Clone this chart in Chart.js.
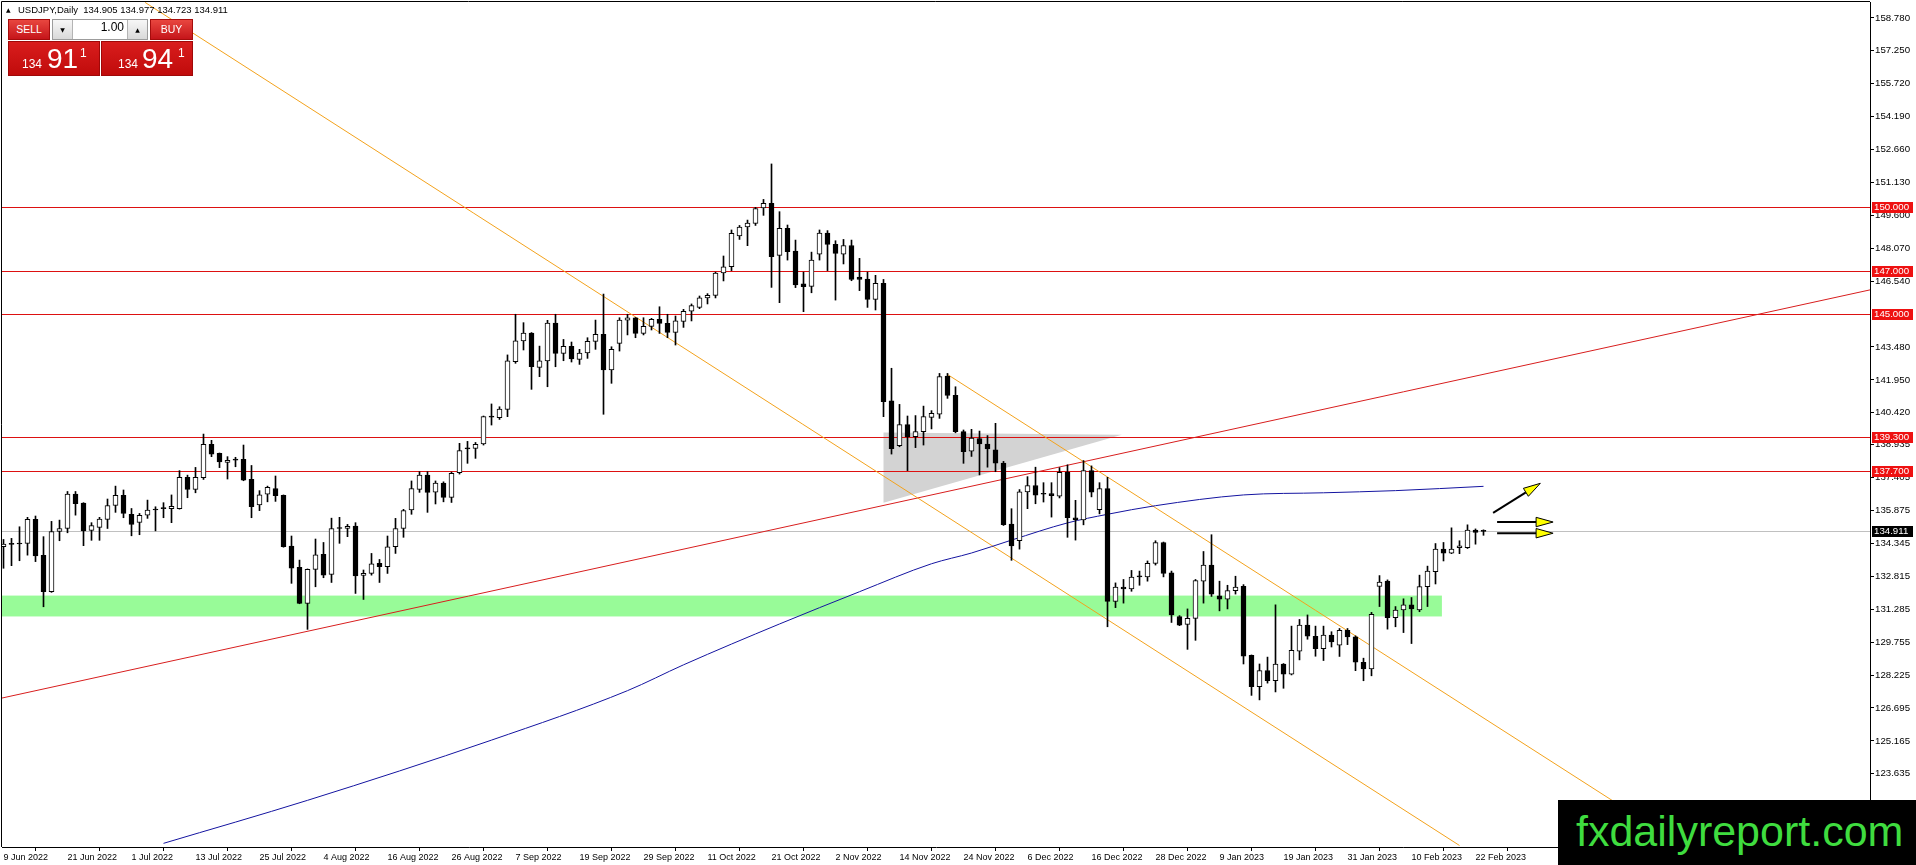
<!DOCTYPE html>
<html>
<head>
<meta charset="utf-8">
<title>USDJPY Daily</title>
<script src="https://cdn.jsdelivr.net/npm/chart.js@4.4.0/dist/chart.umd.min.js"></script>
<style>
html, body { margin: 0; padding: 0; background: #fff; overflow: hidden; }
#wrap { position: relative; width: 1916px; height: 865px; }
#c { position: absolute; left: 0; top: 0; }
#title { position: absolute; left: 6px; top: 4px; font: 9.5px "Liberation Sans", Arial, sans-serif; color: #000; white-space: pre; }
#tri { display: inline-block; width: 12px; font: 6px "DejaVu Sans", sans-serif; vertical-align: 1px; }
.p { position: absolute; box-sizing: border-box; }
.btn { top: 19px; height: 21px; background: linear-gradient(#e8463f, #c5151a); color: #fff;
       font: 10.5px "Liberation Sans", Arial, sans-serif; text-align: center; line-height: 19px; border: 1px solid #a50c0c; }
#sell { left: 8px; width: 42px; }
#buy { left: 150px; width: 43px; }
#spin { left: 52px; top: 19px; width: 96px; height: 21px; border: 1px solid #9c9c9c; background: #fff; }
.arr { position: absolute; top: 0; width: 19px; height: 19px; background: linear-gradient(#f7f7f7, #d9d9d9);
       font: 6px "DejaVu Sans", sans-serif; text-align: center; line-height: 19px; color: #000; }
#dn { left: 0; border-right: 1px solid #b4b4b4; }
#up { right: 0; border-left: 1px solid #b4b4b4; }
#lot { position: absolute; right: 23px; top: 0; line-height: 19px; font: 12px "Liberation Sans", Arial, sans-serif; color: #000; }
.big { top: 41px; width: 92px; height: 35px; background: linear-gradient(#d91d1d, #c00b0b); border: 1px solid #a00808; color: #fff;
       font-family: "Liberation Sans", Arial, sans-serif; }
#bid { left: 8px; }
#ask { left: 101px; width: 92px; }
.big span { position: absolute; line-height: 1; white-space: nowrap; }
.sm { font-size: 12px; top: 16px; }
.lg { font-size: 28px; top: 3px; }
.sup { font-size: 12px; top: 5px; }
#brand { position: absolute; left: 1558px; top: 800px; width: 358px; height: 65px; background: #000; color: #3fdc3f;
         font: 43px "Liberation Sans", Arial, sans-serif; line-height: 63px; padding-left: 18px; box-sizing: border-box; }
</style>
</head>
<body>
<div id="wrap">
  <canvas id="c" width="1916" height="865"></canvas>
  <div id="title"><span id="tri">▲</span>USDJPY,Daily  134.905 134.977 134.723 134.911</div>
  <div class="p btn" id="sell">SELL</div>
  <div class="p" id="spin"><span class="arr" id="dn">▼</span><span id="lot">1.00</span><span class="arr" id="up">▲</span></div>
  <div class="p btn" id="buy">BUY</div>
  <div class="p big" id="bid"><span class="sm" style="left:13px">134</span><span class="lg" style="left:38px">91</span><span class="sup" style="left:71px">1</span></div>
  <div class="p big" id="ask"><span class="sm" style="left:16px">134</span><span class="lg" style="left:40px">94</span><span class="sup" style="left:76px">1</span></div>
  <div id="brand">fxdailyreport.com</div>
</div>
<script>
// one label every 8 daily bars, bar 0 = 9 Jun 2022
const barsPerLabel = 8;
const dateLabels = ['9 Jun 2022', '21 Jun 2022', '1 Jul 2022', '13 Jul 2022', '25 Jul 2022', '4 Aug 2022',
  '16 Aug 2022', '26 Aug 2022', '7 Sep 2022', '19 Sep 2022', '29 Sep 2022', '11 Oct 2022', '21 Oct 2022',
  '2 Nov 2022', '14 Nov 2022', '24 Nov 2022', '6 Dec 2022', '16 Dec 2022', '28 Dec 2022', '9 Jan 2023',
  '19 Jan 2023', '31 Jan 2023', '10 Feb 2023', '22 Feb 2023'];

const opens = [134.19,134.32,134.32,134.35,135.46,133.79,132.10,134.90,135.04,136.64,
  136.22,134.95,135.09,135.46,136.11,136.58,135.70,135.32,135.66,135.93,
  135.96,135.96,135.96,137.42,136.86,137.40,138.95,138.53,138.11,138.22,
  138.25,137.32,136.14,136.64,136.90,136.58,134.22,133.23,131.56,133.14,
  133.84,132.90,135.04,135.04,135.15,132.86,132.95,133.42,133.26,134.19,
  135.04,135.90,136.86,137.52,136.73,137.15,136.49,137.63,138.75,138.76,
  138.97,140.22,140.19,140.58,142.80,143.76,144.13,142.53,142.83,144.59,
  143.18,143.51,142.90,143.20,143.74,144.07,142.41,143.65,144.73,144.83,
  144.11,144.44,144.76,144.58,144.16,144.67,145.14,145.32,145.76,145.88,
  146.92,147.21,148.64,149.06,149.23,149.94,150.16,147.74,149.00,147.94,
  146.41,146.30,147.79,148.78,148.25,147.79,148.20,146.73,146.64,145.69,
  146.44,140.97,138.89,139.87,139.31,139.54,140.21,140.35,142.13,141.23,
  139.54,138.63,139.22,138.97,138.70,138.08,135.25,134.47,136.74,137.04,
  136.65,136.66,136.54,137.65,135.54,135.44,137.73,135.91,136.90,131.65,
  132.32,132.23,132.79,132.79,133.42,134.39,132.98,130.94,130.58,130.86,
  132.59,133.34,131.91,131.75,132.15,132.35,129.14,127.69,128.43,127.96,
  128.74,128.27,129.34,130.55,130.03,129.45,130.08,129.61,130.31,130.00,
  128.82,128.51,132.35,132.59,130.89,131.25,131.49,131.25,132.34,133.03,
  134.08,133.89,134.15,134.15,134.97,134.905];

const highs = [134.53,134.58,135.12,135.56,135.62,134.66,135.37,135.43,136.76,136.76,
  136.24,135.31,135.56,136.41,137.01,136.83,135.97,135.74,136.36,136.05,
  136.24,136.60,137.73,137.52,137.88,139.43,139.14,138.55,138.38,138.35,
  138.92,137.97,136.80,137.01,137.48,136.60,134.69,133.57,133.16,134.55,
  134.39,135.52,135.56,135.23,135.31,133.11,133.88,133.60,134.69,135.51,
  135.93,137.25,137.68,137.68,137.25,137.21,137.66,139.00,139.09,139.04,
  140.27,140.83,140.70,143.11,145.00,144.61,144.15,143.52,144.72,145.00,
  143.83,143.71,143.37,143.91,144.73,145.94,143.49,144.84,145.00,144.85,
  144.84,144.81,145.35,145.00,144.92,145.23,145.48,145.85,145.96,146.96,
  147.71,148.92,149.13,149.38,149.97,150.34,151.99,149.77,149.15,148.45,
  146.96,147.89,148.92,148.89,148.42,148.48,148.45,147.60,146.96,146.81,
  146.62,142.49,140.81,140.27,140.29,140.73,140.52,142.25,142.25,141.63,
  139.62,139.65,139.57,139.36,139.93,138.16,135.96,136.85,137.45,137.89,
  137.17,137.17,137.87,138.00,136.35,138.20,137.95,137.17,137.42,132.51,
  132.67,133.09,133.06,133.53,134.47,134.41,133.06,130.99,131.30,132.67,
  133.97,134.75,132.59,132.40,132.82,132.43,129.16,128.74,129.06,131.49,
  128.76,130.50,130.81,131.02,130.50,130.50,130.24,130.39,130.39,130.05,
  129.01,131.14,132.85,132.65,131.41,131.77,131.83,132.87,133.29,134.34,
  134.39,135.07,134.47,135.21,135.02,134.977];

const lows = [133.19,133.31,133.54,133.80,133.50,131.40,132.07,134.47,134.84,135.66,
  134.24,134.49,134.49,135.04,135.79,135.54,134.70,134.75,135.51,134.93,
  135.54,135.31,135.94,136.47,136.70,137.32,138.38,137.87,137.34,137.91,
  137.26,135.54,135.87,136.28,136.30,134.17,132.49,131.54,130.35,132.33,
  132.75,132.53,134.35,134.66,132.02,131.74,132.87,132.53,132.95,133.88,
  134.63,135.70,136.72,135.79,136.18,136.28,136.25,137.57,138.07,138.30,
  138.92,139.85,140.11,140.24,142.72,143.34,141.51,142.10,141.63,142.56,
  142.84,142.78,142.67,142.95,143.37,140.35,141.79,143.29,144.04,143.91,
  144.04,144.27,144.11,143.91,143.57,144.39,144.69,145.26,145.48,145.76,
  146.55,147.03,148.48,148.19,149.13,149.60,146.25,145.54,147.52,146.24,
  145.12,146.00,147.52,147.03,145.66,147.34,146.56,146.10,145.32,145.20,
  140.24,138.50,138.84,137.73,138.80,138.92,139.67,140.16,141.09,139.49,
  138.07,138.39,137.53,137.89,137.68,135.18,133.56,134.08,135.96,136.19,
  136.27,135.57,136.46,134.63,134.50,135.21,136.51,135.72,130.47,131.36,
  131.57,132.12,132.40,132.59,133.34,132.79,130.67,130.52,129.42,129.84,
  131.57,131.88,131.21,131.30,131.99,128.74,127.28,127.07,127.85,127.44,
  127.61,128.23,128.93,129.89,129.10,128.90,129.53,129.09,129.64,128.43,
  127.96,128.19,131.41,130.36,130.47,130.20,129.69,131.17,131.41,132.46,
  133.53,133.87,133.87,134.11,134.31,134.723];

const closes = [134.32,134.30,134.33,135.46,133.77,132.10,134.90,135.04,136.64,136.19,
  134.93,135.17,135.48,136.11,136.58,135.74,135.23,135.65,135.90,135.90,
  135.97,136.07,137.42,136.86,137.42,138.95,138.50,138.13,138.21,138.23,
  137.29,136.05,136.61,136.95,136.56,134.19,133.19,131.56,133.14,133.82,
  132.87,135.04,135.05,135.14,132.84,132.95,133.40,133.26,134.19,135.04,
  135.87,136.89,137.52,136.72,137.15,136.49,137.60,138.66,138.74,138.95,
  140.24,140.23,140.59,142.83,143.76,144.13,142.56,142.83,144.59,143.18,
  143.51,142.93,143.20,143.74,144.07,142.41,143.37,144.73,144.83,144.11,
  144.44,144.76,144.58,144.16,144.69,145.14,145.40,145.76,145.88,146.92,
  147.21,148.76,149.06,149.24,149.92,150.16,147.68,149.00,147.91,146.36,
  146.28,147.52,148.78,148.25,147.83,148.20,146.62,146.62,145.69,146.44,
  140.94,138.75,139.87,139.31,139.54,140.24,140.39,142.10,141.23,139.54,
  138.61,139.24,138.97,138.74,138.08,135.22,134.23,136.74,137.03,136.59,
  136.63,136.57,137.65,135.54,135.44,137.73,136.73,136.90,131.65,132.32,
  132.23,132.78,132.80,133.42,134.39,132.95,131.02,130.55,130.86,132.62,
  133.34,131.99,131.75,132.15,132.32,129.10,127.69,128.43,127.96,128.74,
  128.27,129.37,130.55,130.03,129.45,130.08,129.76,130.31,130.00,128.82,
  128.51,131.05,132.55,130.89,131.25,131.49,131.30,132.34,133.06,134.08,
  133.89,134.08,134.23,134.97,134.86,134.911];

// moving average read at a few bars
const maBars = [20, 38, 61, 78, 85, 97, 107, 116, 121, 126, 133, 138, 144, 155, 165, 174, 185];
const maValues = [120.4, 122.4, 125.2, 127.5, 128.7, 130.6, 132.1, 133.4, 133.9, 134.5, 135.3, 135.7, 136.1, 136.6, 136.7, 136.8, 137.0];

// right axis tick labels
const yTicks = [158.78, 157.25, 155.72, 154.19, 152.66, 151.13, 149.60, 148.07, 146.54, 143.48, 141.95, 140.42,
  138.935, 137.405, 135.875, 134.345, 132.815, 131.285, 129.755, 128.225, 126.695, 125.165, 123.635];

// horizontal levels and current price
const levels = [150.0, 147.0, 145.0, 139.3, 137.7];
const lastPrice = 134.911;

// drawn objects (bar index, price)
const zone = { low: 130.95, high: 131.92, endBar: 179.8 };
const triangle = [[110, 139.5], [139.8, 139.40], [110, 136.24]];
const orangeMain = [[17.7, 159.5], [182.0, 120.3]];
const orangeUpper = [[118, 142.2], [210.0, 120.27]];
const redTrend = [[-1, 127.09], [234, 146.19]];
const arrowFrom = [[186.2, 135.77], [186.7, 135.34], [186.7, 134.82]];
const arrowTo = [[192.1, 137.14], [193.7, 135.34], [193.7, 134.82]];

const FONT = '"Liberation Sans", Arial, sans-serif';
const bars = opens.map((_, i) => i);
const toPts = arr => arr.map(p => ({ x: p[0], y: p[1] }));

function drawArrow(ctx, x1, y1, x2, y2) {
  const ang = Math.atan2(y2 - y1, x2 - x1);
  const len = 17, half = 4.7;
  const bx = x2 - len * Math.cos(ang), by = y2 - len * Math.sin(ang);
  ctx.strokeStyle = '#000';
  ctx.lineWidth = 2;
  ctx.beginPath(); ctx.moveTo(x1, y1); ctx.lineTo(bx, by); ctx.stroke();
  ctx.beginPath();
  ctx.moveTo(x2, y2);
  ctx.lineTo(bx + half * Math.sin(ang), by - half * Math.cos(ang));
  ctx.lineTo(bx - half * Math.sin(ang), by + half * Math.cos(ang));
  ctx.closePath();
  ctx.fillStyle = '#ffff00';
  ctx.fill();
  ctx.lineWidth = 1;
  ctx.stroke();
}

const objects = {
  id: 'objects',
  beforeDatasetsDraw(chart) {
    const { ctx, chartArea: a, scales: { x, y } } = chart;
    ctx.save();
    ctx.beginPath(); ctx.rect(a.left, a.top, a.width, a.height); ctx.clip();
    // green zone
    const zt = y.getPixelForValue(zone.high), zb = y.getPixelForValue(zone.low);
    ctx.fillStyle = '#98fb98';
    ctx.fillRect(a.left, zt, x.getPixelForValue(zone.endBar) - a.left, zb - zt);
    // grey triangle
    ctx.fillStyle = '#d3d3d3';
    ctx.beginPath();
    triangle.forEach((p, i) => {
      const px = x.getPixelForValue(p[0]), py = y.getPixelForValue(p[1]);
      if (i === 0) ctx.moveTo(px, py); else ctx.lineTo(px, py);
    });
    ctx.closePath(); ctx.fill();
    // current price line
    ctx.lineWidth = 1;
    const lp = Math.round(y.getPixelForValue(lastPrice)) + 0.5;
    ctx.strokeStyle = '#c0c0c0';
    ctx.beginPath(); ctx.moveTo(a.left, lp); ctx.lineTo(a.right, lp); ctx.stroke();
    // red levels
    ctx.strokeStyle = '#dd1111';
    levels.forEach(v => {
      const py = Math.round(y.getPixelForValue(v)) + 0.5;
      ctx.beginPath(); ctx.moveTo(a.left, py); ctx.lineTo(a.right, py); ctx.stroke();
    });
    ctx.restore();
  },
  afterDatasetsDraw(chart) {
    const { ctx, chartArea: a, scales: { x, y } } = chart;
    ctx.save();
    ctx.beginPath(); ctx.rect(a.left, a.top, a.width, a.height); ctx.clip();
    arrowFrom.forEach((f, i) => {
      const t = arrowTo[i];
      drawArrow(ctx, x.getPixelForValue(f[0]), y.getPixelForValue(f[1]),
        x.getPixelForValue(t[0]), y.getPixelForValue(t[1]));
    });
    ctx.restore();
  },
  afterDraw(chart) {
    const { ctx, chartArea: a, scales: { y } } = chart;
    ctx.save();
    // left and top frame
    ctx.strokeStyle = '#000';
    ctx.lineWidth = 1;
    ctx.beginPath();
    ctx.moveTo(a.left - 0.5, a.bottom); ctx.lineTo(a.left - 0.5, a.top - 0.5); ctx.lineTo(a.right, a.top - 0.5);
    ctx.stroke();
    // price tags on the axis
    ctx.font = '9.7px ' + FONT;
    ctx.textBaseline = 'middle';
    ctx.textAlign = 'left';
    const tag = (v, bg) => {
      const py = Math.round(y.getPixelForValue(v));
      ctx.fillStyle = bg;
      ctx.fillRect(a.right + 2, py - 5, 41, 11);
      ctx.fillStyle = '#fff';
      ctx.fillText(v.toFixed(3), a.right + 4, py + 0.5);
    };
    levels.forEach(v => tag(v, '#ee1111'));
    tag(lastPrice, '#000');
    ctx.restore();
  }
};

const lineDs = (pts, color, extra) => Object.assign({
  type: 'line', data: pts, borderColor: color, borderWidth: 1, pointRadius: 0, fill: false, order: 2
}, extra || {});

new Chart(document.getElementById('c').getContext('2d'), {
  type: 'bar',
  data: {
    datasets: [
      {
        type: 'bar',
        data: bars.map(i => ({ x: i, y: [opens[i], closes[i]] })),
        backgroundColor: bars.map(i => closes[i] - opens[i] > 0.02 ? '#ffffff' : '#000000'),
        borderColor: '#000',
        borderWidth: 1,
        borderSkipped: false,
        barThickness: 5,
        minBarLength: 1,
        grouped: false,
        order: 0
      },
      {
        type: 'bar',
        data: bars.map(i => ({ x: i, y: [lows[i], highs[i]] })),
        backgroundColor: '#000',
        barThickness: 1,
        grouped: false,
        order: 1
      },
      lineDs(maBars.map((b, i) => ({ x: b, y: maValues[i] })), '#1414a0', { cubicInterpolationMode: 'monotone' }),
      lineDs(toPts(orangeMain), '#f3a21c'),
      lineDs(toPts(orangeUpper), '#f3a21c'),
      lineDs(toPts(redTrend), '#d81e1e')
    ]
  },
  options: {
    responsive: false,
    animation: false,
    events: [],
    layout: { padding: { top: 2, left: 2, right: 0, bottom: 0 }, autoPadding: false },
    plugins: { legend: { display: false }, tooltip: { enabled: false }, title: { display: false } },
    scales: {
      x: {
        type: 'linear',
        min: -0.1875,
        max: 233.3125,
        offset: false,
        afterBuildTicks: s => { s.ticks = dateLabels.map((d, i) => ({ value: i * barsPerLabel })); },
        afterFit: s => { s.height = 18; s.paddingLeft = 0; s.paddingRight = 0; },
        ticks: {
          callback: v => dateLabels[Math.round(v / barsPerLabel)],
          align: 'start', maxRotation: 0, autoSkip: false, padding: 1,
          color: '#000', font: { family: FONT, size: 9 }
        },
        grid: { drawOnChartArea: false, drawTicks: true, tickLength: 4, color: '#000' },
        border: { display: true, color: '#000' }
      },
      y: {
        type: 'linear',
        position: 'right',
        min: 120.23,
        max: 159.52,
        afterBuildTicks: s => { s.ticks = yTicks.map(v => ({ value: v })); },
        afterFit: s => { s.width = 46; s.paddingTop = 0; s.paddingBottom = 0; },
        ticks: {
          callback: v => v.toFixed(3),
          autoSkip: false, padding: 1,
          color: '#000', font: { family: FONT, size: 9.7 }
        },
        grid: { drawOnChartArea: false, drawTicks: true, tickLength: 4, color: '#000' },
        border: { display: true, color: '#000' }
      }
    }
  },
  plugins: [objects]
});
</script>
</body>
</html>
